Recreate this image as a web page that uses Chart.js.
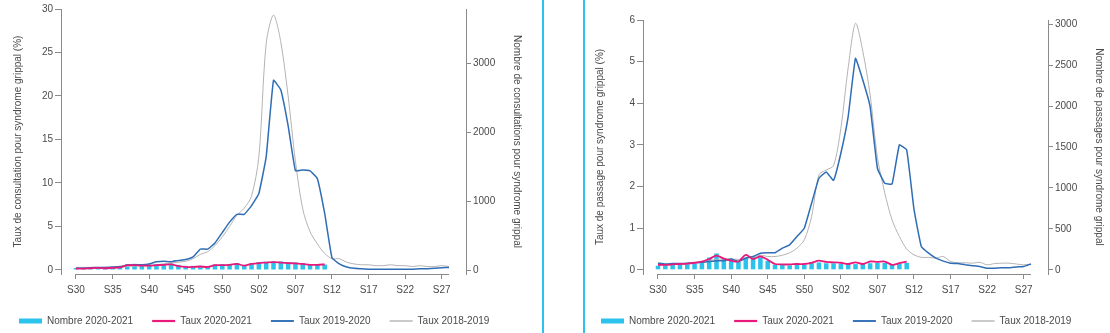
<!DOCTYPE html>
<html>
<head>
<meta charset="utf-8">
<script src="https://cdn.jsdelivr.net/npm/chart.js@4/dist/chart.umd.min.js"></script>
<style>
  body { margin: 0; background: #fff; }
  #wrap { position: relative; width: 1110px; height: 333px; overflow: hidden; }
  canvas { position: absolute; top: 0; }
  .sep { position: absolute; top: 0; width: 2px; height: 333px; background: #2bc3eb; }
</style>
</head>
<body>
<div id="wrap">
  <canvas id="consult" width="528" height="333" style="left:0"></canvas>
  <canvas id="passages" width="528" height="333" style="left:582px"></canvas>
  <div class="sep" style="left:542px"></div>
  <div class="sep" style="left:583px"></div>
</div>
<script>
const weeks = ['S30','S31','S32','S33','S34','S35','S36','S37','S38','S39','S40','S41','S42','S43','S44','S45','S46','S47','S48','S49','S50','S51','S52','S53',
  'S01','S02','S03','S04','S05','S06','S07','S08','S09','S10','S11','S12','S13','S14','S15','S16','S17','S18','S19','S20','S21','S22','S23','S24','S25','S26','S27','S28']

// consultations (left panel)
const consultNombre2021 = [30,30,35,40,35,40,45,85,90,80,80,85,90,95,75,60,60,60,55,80,85,85,100,75,100,115,120,125,125,115,110,100,80,80,80]
const consultTaux2021 = [0.15,0.15,0.2,0.25,0.2,0.25,0.3,0.55,0.55,0.5,0.5,0.55,0.6,0.65,0.45,0.35,0.35,0.4,0.35,0.55,0.55,0.6,0.7,0.5,0.7,0.8,0.85,0.9,0.85,0.8,0.75,0.7,0.6,0.6,0.65]
const consultTaux1920 = [0.2,0.2,0.25,0.3,0.3,0.35,0.4,0.55,0.6,0.6,0.7,0.95,1.0,0.95,1.1,1.2,1.5,2.4,2.4,3.1,4.3,5.5,6.4,6.4,
  7.4,8.8,13.0,21.8,20.7,16.6,11.4,11.5,11.4,10.5,6.5,1.4,0.7,0.35,0.2,0.15,0.1,0.1,0.1,0.1,0.1,0.1,0.1,0.15,0.15,0.2,0.25,0.3]
const consultTaux1819 = [0.3,0.3,0.3,0.3,0.3,0.3,0.35,0.4,0.45,0.5,0.5,0.6,0.7,0.8,0.9,1.0,1.3,1.8,2.1,2.8,3.8,5.0,6.3,7.1,
  8.5,13.0,26.0,29.3,26.2,20.0,12.5,7.0,4.4,3.0,1.9,1.3,1.3,0.9,0.7,0.6,0.6,0.5,0.5,0.6,0.5,0.5,0.4,0.5,0.4,0.4,0.5,0.4]

// passages aux urgences (right panel)
const passNombre2021 = [50,55,60,65,70,75,95,150,200,140,110,100,150,160,150,110,65,60,55,60,60,95,90,80,80,75,70,70,80,80,85,85,70,75,85]
const passTaux2021 = [0.12,0.12,0.13,0.14,0.15,0.17,0.2,0.26,0.34,0.27,0.22,0.2,0.36,0.26,0.32,0.24,0.14,0.13,0.13,0.14,0.14,0.17,0.22,0.19,0.18,0.17,0.14,0.18,0.14,0.2,0.19,0.2,0.12,0.16,0.2]
const passTaux1920 = [0.16,0.14,0.15,0.15,0.16,0.17,0.18,0.2,0.22,0.22,0.26,0.2,0.28,0.32,0.4,0.41,0.41,0.52,0.6,0.8,1.0,1.6,2.2,2.35,
  2.15,2.8,3.68,5.08,4.56,3.92,2.44,2.08,2.06,3.0,2.88,1.45,0.56,0.4,0.28,0.21,0.16,0.15,0.12,0.1,0.08,0.04,0.04,0.05,0.05,0.07,0.08,0.14]
const passTaux1819 = [0.12,0.12,0.13,0.14,0.15,0.16,0.18,0.22,0.25,0.26,0.26,0.25,0.27,0.3,0.35,0.32,0.32,0.35,0.41,0.52,0.72,1.28,2.28,2.4,
  2.5,3.4,4.85,5.92,5.25,4.2,2.7,1.85,1.2,0.8,0.5,0.36,0.3,0.3,0.28,0.32,0.2,0.17,0.17,0.16,0.18,0.12,0.15,0.16,0.16,0.14,0.12,0.14]

const CYAN = '#2bc3eb'
const PINK = '#e8197a'
const BLUE = '#2f6db5'
const GREY = '#b3b3b3'
const AXIS = '#8a8a8a'
const TEXT = '#4a4a4a'

Chart.defaults.font.family = '"Liberation Sans", Arial, sans-serif'
Chart.defaults.font.size = 10
Chart.defaults.color = TEXT

const pts = arr => arr.map((v, i) => ({ x: i, y: v }))

// x axis line only between first and last week
const xBaseline = {
  id: 'xBaseline',
  afterDraw(chart) {
    const x = chart.scales.x
    const y = chart.chartArea.bottom + 0.5
    const ctx = chart.ctx
    ctx.save()
    ctx.strokeStyle = AXIS
    ctx.lineWidth = 1
    ctx.beginPath()
    ctx.moveTo(x.getPixelForValue(0), y)
    ctx.lineTo(x.getPixelForValue(weeks.length - 1), y)
    ctx.stroke()
    ctx.restore()
  },
}

function makeChart(id, o) {
  new Chart(document.getElementById(id), {
    type: 'bar',
    data: {
      datasets: [
        { type: 'bar', label: 'Nombre 2020-2021', data: pts(o.nombre), yAxisID: 'y1',
          backgroundColor: CYAN, barPercentage: 0.62, categoryPercentage: 1, order: 3 },
        { type: 'line', label: 'Taux 2020-2021', data: pts(o.taux2021), yAxisID: 'y',
          borderColor: PINK, borderWidth: 1.8, pointRadius: 0, tension: 0.3, order: 0 },
        { type: 'line', label: 'Taux 2019-2020', data: pts(o.taux1920), yAxisID: 'y',
          borderColor: BLUE, borderWidth: 1.5, pointRadius: 0, tension: 0.1, order: 1 },
        { type: 'line', label: 'Taux 2018-2019', data: pts(o.taux1819), yAxisID: 'y',
          borderColor: GREY, borderWidth: 1, pointRadius: 0, tension: 0.3, order: 2 },
      ],
    },
    options: {
      responsive: false,
      animation: false,
      layout: { padding: { top: o.top, bottom: -3 } },
      plugins: {
        tooltip: { enabled: false },
        legend: {
          position: 'bottom',
          align: 'start',
          labels: {
            usePointStyle: true,
            pointStyleWidth: 23,
            boxHeight: 10,
            padding: 19,
            font: { size: 10 },
            generateLabels: chart => chart.data.datasets.map((d, i) => ({
              text: d.label,
              fillStyle: d.type === 'bar' ? d.backgroundColor : d.borderColor,
              strokeStyle: d.type === 'bar' ? d.backgroundColor : d.borderColor,
              lineWidth: d.type === 'bar' ? 5 : d.borderWidth + 0.4,
              pointStyle: 'line',
              fontColor: TEXT,
              hidden: false,
              datasetIndex: i,
            })),
          },
        },
      },
      scales: {
        x: {
          type: 'linear',
          offset: false,
          min: -2.05,
          max: 53.32,
          afterBuildTicks: s => { s.ticks = weeks.map((w, i) => i).filter(i => i % 5 === 0).map(v => ({ value: v })) },
          afterFit: s => { s.height = 23 },
          ticks: { callback: v => weeks[v], maxRotation: 0, autoSkip: false, padding: 5 },
          grid: { offset: false, drawOnChartArea: false, tickLength: 5, color: AXIS },
          border: { display: false },
        },
        y: {
          position: 'left',
          min: o.yMin,
          max: o.yMax,
          afterBuildTicks: s => { s.ticks = o.yTicks.map(v => ({ value: v })) },
          afterFit: s => { s.width = 61 },
          ticks: { padding: 2, callback: v => String(v) },
          grid: { drawOnChartArea: false, tickLength: 6, color: AXIS },
          border: { color: AXIS },
          title: { display: true, text: o.yTitle, padding: { top: 12, bottom: 0 }, font: { size: 10 } },
        },
        y1: {
          position: 'right',
          min: o.y1Min,
          max: o.y1Max,
          afterBuildTicks: s => { s.ticks = o.y1Ticks.map(v => ({ value: v })) },
          afterFit: s => { s.width = 62 },
          ticks: { padding: 2, callback: v => String(v) },
          grid: { drawOnChartArea: false, tickLength: 5, color: AXIS },
          border: { color: AXIS },
          title: { display: true, text: o.y1Title, padding: { top: 5, bottom: 0 }, font: { size: 10 } },
        },
      },
    },
    plugins: [xBaseline],
  })
}

makeChart('consult', {
  nombre: consultNombre2021, taux2021: consultTaux2021, taux1920: consultTaux1920, taux1819: consultTaux1819,
  top: 9,
  yMin: -0.46, yMax: 30, yTicks: [0, 5, 10, 15, 20, 25, 30],
  y1Min: -58, y1Max: 3790, y1Ticks: [0, 1000, 2000, 3000],
  yTitle: 'Taux de consultation pour syndrome grippal (%)',
  y1Title: 'Nombre de consultations pour syndrome grippal',
})

makeChart('passages', {
  nombre: passNombre2021, taux2021: passTaux2021, taux1920: passTaux1920, taux1819: passTaux1819,
  top: 20,
  yMin: -0.1, yMax: 6, yTicks: [0, 1, 2, 3, 4, 5, 6],
  y1Min: -51, y1Max: 3050, y1Ticks: [0, 500, 1000, 1500, 2000, 2500, 3000],
  yTitle: 'Taux de passage pour syndrome grippal (%)',
  y1Title: 'Nombre de passages pour syndrome grippal',
})
</script>
</body>
</html>
